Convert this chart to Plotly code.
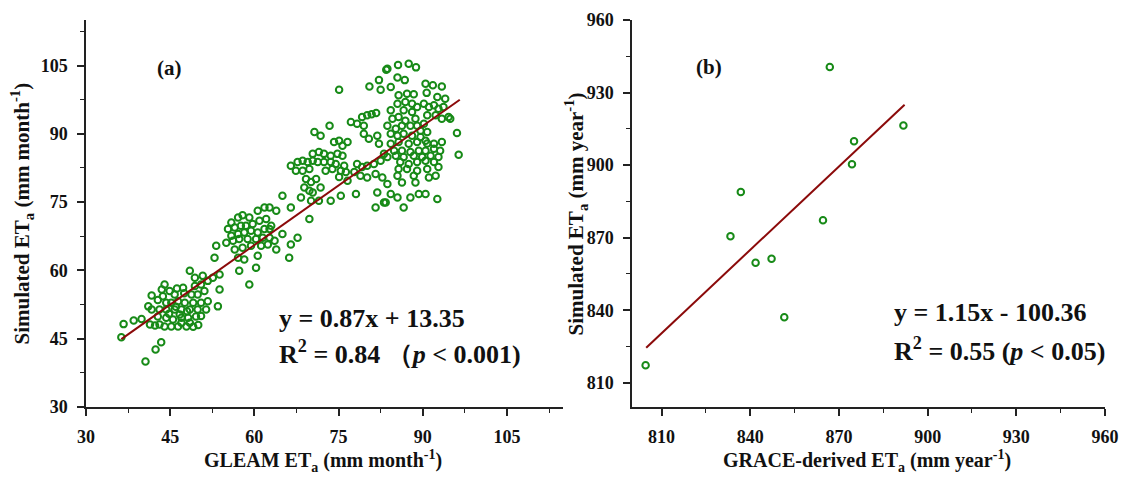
import plotly.graph_objects as go

# ---------------- Panel (a) data: GLEAM ET_a vs simulated ET_a (mm month-1)
gleam_x = [
    36.3, 36.7, 40.6, 42.4, 43.4, 39.9, 41.7, 41.7, 42.8, 44.0, 44.9, 41.4, 42.3, 43.1, 44.0, 45.2, 46.4, 47.9, 49.1,
    44.3, 45.5, 47.0, 48.2, 49.6, 43.1, 44.3, 45.8, 47.0, 48.5, 49.9, 51.4, 42.8, 45.2, 46.4, 47.6, 49.1, 50.5, 51.7,
    45.8, 47.3, 48.8, 49.9, 51.1, 48.5, 49.4, 50.8, 51.7, 52.6, 53.8, 53.8, 53.5, 52.9, 53.2, 44.3, 46.7, 49.4, 50.5,
    41.1, 43.7, 47.0, 48.0, 46.0, 50.5, 47.5, 44.8, 48.5, 50.0, 46.2, 43.5, 38.5,
    70.7, 71.8, 74.2, 75.1, 75.7, 76.6, 70.4, 71.5, 72.4, 73.6, 74.8, 75.7,
    66.5, 67.7, 68.6, 69.5, 70.4, 71.3, 72.4, 73.6, 74.5, 76.0,
    67.4, 68.6, 69.8, 72.7, 73.9, 75.4, 76.3, 69.2, 70.1, 71.0, 71.8, 75.1, 76.6,
    68.9, 69.8, 70.4, 65.0, 68.3, 70.1, 71.5, 73.6, 75.4, 69.8, 66.5,
    55.9, 57.1, 57.9, 59.1, 60.6, 61.8, 62.7, 63.9, 55.3, 56.5, 57.6, 58.5, 59.7, 60.9, 62.1, 63.0,
    55.9, 57.1, 58.2, 59.4, 60.6, 61.8, 62.7, 55.0, 56.2, 57.3, 58.8, 60.3, 61.5, 62.7, 63.6,
    56.5, 57.9, 59.4, 61.2, 62.4, 63.9, 57.1, 58.2, 60.6, 57.3, 60.3, 59.1, 66.2, 65.0, 66.5, 67.7,
    75.1, 80.5, 82.2, 82.5, 83.5, 73.4, 77.2, 78.3, 79.2, 80.1, 80.9, 81.7, 79.5, 79.5, 80.4, 81.9, 82.2,
    78.3, 79.2, 80.1, 81.3, 82.5, 83.1, 77.8, 78.9, 80.1, 81.6, 82.8, 78.1, 81.9, 83.1, 81.6,
    83.7, 85.6, 87.5, 88.8, 85.5, 86.8, 84.3, 90.5, 91.8, 93.4, 90.7, 92.6, 94.0,
    85.7, 87.2, 88.4, 85.5, 86.9, 88.1, 89.0, 86.6, 88.1, 84.3, 84.6, 85.7, 86.9, 88.7,
    90.2, 91.1, 92.0, 92.8, 93.7, 90.8, 92.3, 93.4, 94.6, 94.9,
    83.7, 85.2, 86.3, 87.8, 89.0, 90.2, 89.6, 90.8, 86.6, 85.5, 84.3, 88.1, 89.6, 90.5, 96.1, 96.4,
    84.3, 85.7, 87.5, 89.0, 90.8, 92.0, 93.4,
    84.9, 86.3, 87.8, 89.3, 90.5, 92.0, 93.1, 83.7, 85.2, 86.6, 88.4, 89.9, 91.4, 92.8,
    86.0, 87.5, 89.0, 90.5, 92.0, 85.7, 87.2, 89.0, 90.8, 92.8, 85.5, 88.4, 91.1, 92.3,
    86.3, 88.7, 83.7, 84.3, 85.5, 87.8, 89.3, 90.5, 92.6, 86.6, 83.4,
]
sim_y = [
    45.3, 48.2, 40.0, 42.6, 44.2, 49.3, 51.4, 54.5, 53.5, 56.9, 55.5, 48.1, 47.9, 48.1, 47.7, 47.7, 47.7, 47.7, 47.6,
    49.6, 49.2, 49.6, 49.6, 49.9, 51.4, 51.4, 51.4, 51.4, 51.4, 51.4, 51.4, 49.9, 52.9, 53.2, 52.9, 52.9, 52.9, 53.2,
    54.7, 56.2, 54.7, 54.7, 55.5, 59.9, 58.4, 58.8, 57.7, 58.4, 59.1, 55.8, 52.1, 62.8, 65.4, 52.9, 50.3, 56.6, 56.9,
    52.1, 54.3, 48.5, 51.0, 52.0, 50.0, 55.0, 50.5, 48.5, 48.0, 56.0, 55.8, 49.0,
    90.4, 89.6, 88.2, 88.5, 87.4, 88.2, 85.6, 86.0, 85.6, 85.2, 85.6, 85.2,
    83.0, 83.8, 84.1, 83.8, 84.1, 83.8, 83.8, 83.8, 83.4, 83.0,
    81.9, 81.9, 82.3, 81.9, 82.3, 81.9, 81.6, 80.1, 79.4, 80.1, 78.2, 80.5, 79.7,
    78.2, 77.5, 77.1, 76.4, 76.0, 75.3, 75.3, 75.3, 76.4, 71.3, 73.8,
    70.5, 71.6, 72.1, 71.6, 73.1, 73.8, 73.8, 73.1, 69.1, 69.4, 69.8, 69.8, 70.2, 70.9, 71.3, 69.8,
    67.6, 68.0, 68.3, 68.7, 68.3, 69.1, 69.1, 66.1, 66.5, 66.9, 66.9, 66.9, 67.2, 67.2, 66.5,
    64.6, 65.0, 65.4, 65.4, 65.7, 64.6, 62.8, 62.4, 63.2, 59.9, 60.6, 56.9, 62.8, 68.0, 65.7, 67.2,
    99.7, 100.4, 101.8, 99.7, 104.1, 91.8, 92.6, 92.2, 93.7, 94.1, 94.3, 94.6, 91.8, 90.0, 88.9, 89.6, 87.8,
    83.4, 82.7, 83.0, 83.4, 84.1, 85.6, 81.6, 80.8, 80.4, 81.2, 80.4, 76.8, 77.1, 74.9, 73.8,
    104.3, 105.1, 105.4, 104.6, 102.4, 101.8, 100.3, 101.0, 100.7, 100.4, 99.0, 98.1, 97.7,
    98.5, 98.8, 98.7, 96.6, 97.0, 96.6, 95.9, 95.2, 94.8, 95.2, 93.3, 93.7, 92.9, 93.3,
    96.6, 95.9, 96.3, 95.5, 95.9, 94.1, 94.1, 93.3, 93.7, 93.3,
    91.8, 91.1, 91.8, 91.8, 91.8, 92.2, 90.7, 90.4, 90.0, 89.6, 90.0, 89.6, 89.3, 88.5, 90.2, 85.4,
    87.8, 88.2, 87.8, 88.2, 87.9, 87.8, 88.2,
    86.3, 86.3, 86.0, 86.3, 86.3, 86.7, 86.3, 84.9, 85.2, 84.9, 85.2, 84.9, 85.2, 84.9,
    83.8, 83.4, 83.8, 84.1, 83.8, 82.3, 82.3, 81.9, 82.3, 82.7, 80.8, 80.8, 80.4, 80.8,
    79.3, 79.3, 79.0, 76.8, 76.0, 76.0, 76.8, 76.8, 75.7, 73.8, 74.9,
]
fit_a_x = [36.3, 96.6]
fit_a_y = [44.9, 97.5]

# ---------------- Panel (b) data: GRACE-derived ET_a vs simulated ET_a (mm year-1)
grace_x = [804.6, 833.3, 836.8, 841.8, 847.2, 851.5, 864.6, 866.9, 874.4, 875.1, 891.8]
sim_b_y = [817.3, 870.6, 888.9, 859.6, 861.3, 837.1, 877.2, 940.6, 900.4, 909.9, 916.4]
fit_b_x = [804.8, 892.2]
fit_b_y = [824.5, 925.0]

x_ticks_a = [30, 45, 60, 75, 90, 105]
y_ticks_a = [30, 45, 60, 75, 90, 105]
x_ticks_b = [810, 840, 870, 900, 930, 960]
y_ticks_b = [810, 840, 870, 900, 930, 960]

GREEN = "#178a17"
RED = "#8b0a0a"
FONT = "Liberation Serif"

fig = go.Figure()
fig.add_trace(go.Scatter(x=gleam_x, y=sim_y, mode="markers", xaxis="x", yaxis="y",
                         marker=dict(symbol="circle-open", size=6.5, color=GREEN, line=dict(width=2, color=GREEN)),
                         showlegend=False))
fig.add_trace(go.Scatter(x=fit_a_x, y=fit_a_y, mode="lines", xaxis="x", yaxis="y",
                         line=dict(color=RED, width=2), showlegend=False))
fig.add_trace(go.Scatter(x=grace_x, y=sim_b_y, mode="markers", xaxis="x2", yaxis="y2",
                         marker=dict(symbol="circle-open", size=6.5, color=GREEN, line=dict(width=2, color=GREEN)),
                         showlegend=False))
fig.add_trace(go.Scatter(x=fit_b_x, y=fit_b_y, mode="lines", xaxis="x2", yaxis="y2",
                         line=dict(color=RED, width=2), showlegend=False))

def ax(domain, rng, ticks, minor_step, anchor):
    return dict(domain=domain, range=rng, tickmode="array", tickvals=ticks,
                showline=True, linecolor="#222", linewidth=1.5, mirror=False,
                ticks="outside", ticklen=7, tickwidth=1.5, tickcolor="#222",
                ticklabelstandoff=6,
                showgrid=False, zeroline=False, anchor=anchor, automargin=False,
                tickfont=dict(family=FONT, size=18, color="#111", weight="bold"),
                minor=dict(ticks="outside", ticklen=4, tickwidth=1.2, tickcolor="#222",
                           dtick=minor_step, tick0=ticks[0], showgrid=False))

ydom = [0.1468, 0.958]
fig.update_layout(
    width=1127, height=477, margin=dict(l=0, r=0, t=0, b=0),
    paper_bgcolor="white", plot_bgcolor="white",
    xaxis=ax([0.0763, 0.4996], [30, 115], x_ticks_a, 7.5, "y"),
    yaxis=ax(ydom, [30, 115], y_ticks_a, 7.5, "x"),
    xaxis2=ax([0.5608, 0.9805], [800, 960], x_ticks_b, 15, "y2"),
    yaxis2=ax(ydom, [800, 960], y_ticks_b, 15, "x2"),
)

tf = dict(family=FONT, color="#111", weight="bold")
ann = [
    dict(x=44.9, y=104.5, xref="x", yref="y", text="(a)", font=dict(size=21, **tf), showarrow=False),
    dict(x=825.9, y=940.5, xref="x2", yref="y2", text="(b)", font=dict(size=21, **tf), showarrow=False),
    dict(x=64.1, y=49.4, xref="x", yref="y", text="y = 0.87x + 13.35", xanchor="left",
         font=dict(size=26, **tf), showarrow=False),
    dict(x=64.1, y=42.0, xref="x", yref="y", text="R<sup>2</sup> = 0.84 （<i>p</i> &lt; 0.001)", xanchor="left",
         font=dict(size=26, **tf), showarrow=False),
    dict(x=888.0, y=839.0, xref="x2", yref="y2", text="y = 1.15x - 100.36", xanchor="left",
         font=dict(size=26, **tf), showarrow=False),
    dict(x=888.0, y=823.7, xref="x2", yref="y2", text="R<sup>2</sup> = 0.55 (<i>p</i> &lt; 0.05)", xanchor="left",
         font=dict(size=26, **tf), showarrow=False),
    dict(x=0.2866, y=0.0, xref="paper", yref="paper", xanchor="center", yanchor="bottom",
         text="GLEAM ET<sub>a</sub> (mm month<sup>-1</sup>)",
         font=dict(size=20, **tf), showarrow=False),
    dict(x=0.769, y=0.0, xref="paper", yref="paper", xanchor="center", yanchor="bottom",
         text="GRACE-derived ET<sub>a</sub> (mm year<sup>-1</sup>)",
         font=dict(size=20, **tf), showarrow=False),
    dict(x=0.0195, y=0.5524, xref="paper", yref="paper", xanchor="center", yanchor="middle",
         text="Simulated ET<sub>a</sub> (mm month<sup>-1</sup>)",
         textangle=-90, font=dict(size=21, **tf), showarrow=False),
    dict(x=0.511, y=0.5524, xref="paper", yref="paper", xanchor="center", yanchor="middle",
         text="Simulated ET<sub>a</sub> (mm year<sup>-1</sup>)",
         textangle=-90, font=dict(size=21, **tf), showarrow=False),
]
fig.update_layout(annotations=ann)
fig.write_html("out.html")
